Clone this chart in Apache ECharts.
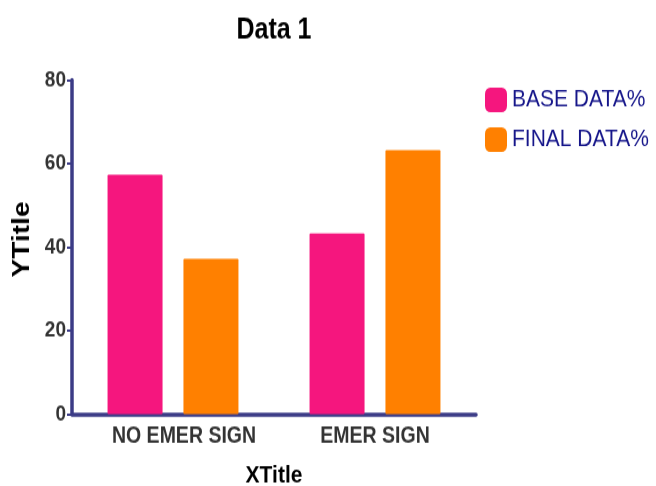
<!DOCTYPE html>
<html><head><meta charset="utf-8">
<script src="https://cdn.jsdelivr.net/npm/echarts@6/dist/echarts.min.js"></script>
<style>
html,body{margin:0;padding:0;background:#fff;overflow:hidden}
#wrap{width:656px;height:486px;overflow:hidden}
#c{width:656px;height:416px;transform:scaleY(1.16827);transform-origin:0 0}
</style>
</head><body><div id="wrap"><div id="c"></div></div>
<script>
const categories = ['NO EMER SIGN', 'EMER SIGN'];
const baseData = [57.3, 43.3];
const finalData = [37.2, 63.2];
const seriesNames = ['BASE DATA%', 'FINAL DATA%'];
const yTicks = { min: 0, max: 80, interval: 20 };

const axisColor = '#3b3b86';
const font = 'Liberation Sans, Arial, sans-serif';
const categoryItems = categories.map((c, i) =>
  i === 0 ? { value: c, textStyle: { padding: [0, 0, 0, 22] } } : c);
const chart = echarts.init(document.getElementById('c'), null, { width: 656, height: 416 });
chart.setOption({
  animation: false,
  title: { text: 'Data 1', left: 269, textAlign: 'center', top: 9,
    textStyle: { fontFamily: font, fontSize: 25, fontWeight: 'bold', color: '#000' } },
  legend: { orient: 'vertical', left: 480, top: 70, itemWidth: 22, itemHeight: 21, itemGap: 13,
    icon: 'roundRect', data: seriesNames,
    textStyle: { fontFamily: font, fontSize: 21, color: '#16168a', padding: [0, 0, 0, 0] } },
  grid: { left: 72, right: 180, top: 68.5, bottom: 61.6, outerBoundsMode: 'none', containLabel: false },
  xAxis: { type: 'category', data: categoryItems,
    name: 'XTitle', nameLocation: 'middle', nameGap: 42,
    nameTextStyle: { fontFamily: font, fontSize: 21, fontWeight: 'bold', color: '#000' },
    axisLine: { lineStyle: { color: axisColor, width: 3.5 } },
    axisTick: { alignWithLabel: true, length: 5, lineStyle: { color: axisColor, width: 2 } },
    axisLabel: { fontFamily: font, fontSize: 19.5, fontWeight: 'bold', color: '#333', margin: 9 } },
  yAxis: { type: 'value', min: yTicks.min, max: yTicks.max, interval: yTicks.interval,
    name: 'YTitle', nameLocation: 'middle', nameGap: 36, nameRotate: 90,
    nameTextStyle: { fontFamily: font, fontSize: 24, fontWeight: 'bold', color: '#000', padding: [0, 0, 0, 13] },
    splitLine: { show: false },
    axisLine: { show: true, lineStyle: { color: axisColor, width: 3.5 } },
    axisTick: { show: true, length: 5, lineStyle: { color: axisColor, width: 2 } },
    axisLabel: { fontFamily: font, fontSize: 19, fontWeight: 'bold', color: '#333', margin: 6 } },
  series: [
    { name: seriesNames[0], type: 'bar', data: baseData, barWidth: 55, barGap: '38%',
      itemStyle: { color: '#f5167e', borderRadius: 1 } },
    { name: seriesNames[1], type: 'bar', data: finalData, barWidth: 55,
      itemStyle: { color: '#ff8000', borderRadius: 1 } }
  ]
});
</script></body></html>
